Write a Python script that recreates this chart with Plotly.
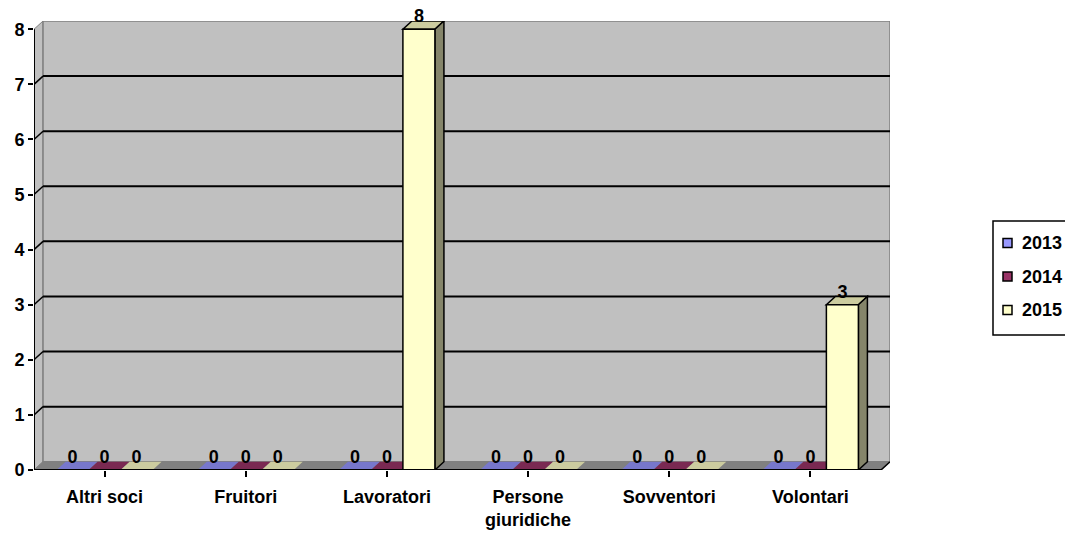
import plotly.graph_objects as go

categories = ["Altri soci", "Fruitori", "Lavoratori", "Persone<br>giuridiche", "Sovventori", "Volontari"]
series_names = ["2013", "2014", "2015"]
values_2013 = [0, 0, 0, 0, 0, 0]
values_2014 = [0, 0, 0, 0, 0, 0]
values_2015 = [0, 0, 8, 0, 0, 3]
y_ticks = [0, 1, 2, 3, 4, 5, 6, 7, 8]

all_values = [values_2013, values_2014, values_2015]
colors = ["#9999ff", "#993366", "#ffffcc"]
top_colors = ["#7777cc", "#7a2952", "#cccc9f"]
side_colors = ["#6a6aa8", "#5c1f3d", "#85856a"]
font_family = "Liberation Sans, Arial, sans-serif"

W, H = 1065, 535
ML, MR, MT, MB = 34, 175, 21, 65

# pseudo-3D depth (in axis units)
dx = 0.064
dy = 0.15
bar_w = 0.68 / 3
ymax = max(y_ticks)
n = len(categories)

fig = go.Figure()
for i, (name, vals, col) in enumerate(zip(series_names, all_values, colors)):
    fig.add_trace(go.Bar(
        x=list(range(n)), y=vals, name=name, showlegend=False,
        width=bar_w, offset=-0.34 + i * bar_w,
        marker=dict(color=col, line=dict(color="black", width=1.5)),
        text=[str(v) for v in vals], textposition="outside", cliponaxis=False,
        textfont=dict(family=font_family, size=18, color="black", weight="bold"),
    ))

shapes = []
# left side wall
shapes.append(dict(type="path", xref="x", yref="y", layer="below",
                   path=f"M-0.5,0 L-0.5,{ymax} L{-0.5+dx},{ymax+dy} L{-0.5+dx},{dy} Z",
                   fillcolor="#c0c0c0", line=dict(color="#808080", width=1)))
# back wall
shapes.append(dict(type="rect", xref="x", yref="y", layer="below",
                   x0=-0.5 + dx, x1=n - 0.5 + dx, y0=dy, y1=ymax + dy,
                   fillcolor="#c0c0c0", line=dict(color="#808080", width=1.5)))
# floor
shapes.append(dict(type="path", xref="x", yref="y", layer="below",
                   path=f"M-0.5,0 L{n-0.5},0 L{n-0.5+dx},{dy} L{-0.5+dx},{dy} Z",
                   fillcolor="#808080", line=dict(color="#808080", width=1)))
# gridlines on back wall + diagonals on side wall
for v in y_ticks[1:-1]:
    shapes.append(dict(type="line", xref="x", yref="y", layer="below",
                       x0=-0.5 + dx, x1=n - 0.5 + dx, y0=v + dy, y1=v + dy,
                       line=dict(color="black", width=2)))
    shapes.append(dict(type="line", xref="x", yref="y", layer="below",
                       x0=-0.5, x1=-0.5 + dx, y0=v, y1=v + dy,
                       line=dict(color="black", width=1.5)))
# bar faces
for i, vals in enumerate(all_values):
    for c, v in enumerate(vals):
        left = c - 0.34 + i * bar_w
        right = left + bar_w
        shapes.append(dict(type="path", xref="x", yref="y", layer="below",
                           path=f"M{left},{v} L{right},{v} L{right+dx},{v+dy} L{left+dx},{v+dy} Z",
                           fillcolor=top_colors[i],
                           line=dict(color="black", width=1.5 if v > 0 else 0)))
        if v > 0:
            shapes.append(dict(type="path", xref="x", yref="y", layer="below",
                               path=f"M{right},0 L{right},{v} L{right+dx},{v+dy} L{right+dx},{dy} Z",
                               fillcolor=side_colors[i], line=dict(color="black", width=1.5)))
# front axes
shapes.append(dict(type="line", xref="x", yref="y", x0=-0.5, x1=-0.5, y0=0, y1=ymax,
                   line=dict(color="black", width=2)))
shapes.append(dict(type="line", xref="x", yref="y", x0=-0.5, x1=n - 0.5, y0=0, y1=0,
                   line=dict(color="black", width=2)))
shapes.append(dict(type="line", xref="x", yref="y", x0=n - 0.5, x1=n - 0.5 + dx, y0=0, y1=dy,
                   line=dict(color="black", width=1.5)))

# custom legend (box, swatches, labels), positioned in paper fractions
pw = W - ML - MR
ph = H - MT - MB
def px_x(p):
    return (p - ML) / pw
def px_y(p):
    return (H - MB - p) / ph

annotations = []
shapes.append(dict(type="rect", xref="paper", yref="paper",
                   x0=px_x(993), x1=px_x(1080), y0=px_y(221), y1=px_y(335),
                   fillcolor="white", line=dict(color="black", width=1.5)))
for k, (name, col) in enumerate(zip(series_names, colors)):
    cy = 243 + k * 33.5
    shapes.append(dict(type="rect", xref="paper", yref="paper",
                       x0=px_x(1003), x1=px_x(1012), y0=px_y(cy - 4.5), y1=px_y(cy + 4.5),
                       fillcolor=col, line=dict(color="black", width=1.5)))
    annotations.append(dict(xref="paper", yref="paper", x=px_x(1020), y=px_y(cy),
                            xanchor="left", yanchor="middle", showarrow=False, text=name,
                            font=dict(family=font_family, size=18, color="black", weight="bold")))

fig.update_layout(
    width=W, height=H,
    margin=dict(l=ML, r=MR, t=MT, b=MB, autoexpand=False),
    paper_bgcolor="white", plot_bgcolor="white",
    barmode="overlay",
    font=dict(family=font_family, size=18, color="black"),
    shapes=shapes, annotations=annotations,
    showlegend=False,
)
fig.update_xaxes(
    range=[-0.5, n - 0.5 + dx],
    tickvals=list(range(n)), ticktext=categories,
    showline=False,
    ticks="outside", tickson="boundaries", ticklen=6, tickcolor="black", tickwidth=2,
    ticklabelstandoff=4,
    tickfont=dict(family=font_family, size=18, color="black", weight="bold"),
    showgrid=False, zeroline=False,
)
fig.update_yaxes(
    range=[0, ymax + dy], tickvals=y_ticks, showline=False,
    ticks="outside", ticklen=5, tickcolor="black", tickwidth=2,
    tickfont=dict(family=font_family, size=18, color="black", weight="bold"),
    showgrid=False, zeroline=False,
)

fig.write_html("out.html")
